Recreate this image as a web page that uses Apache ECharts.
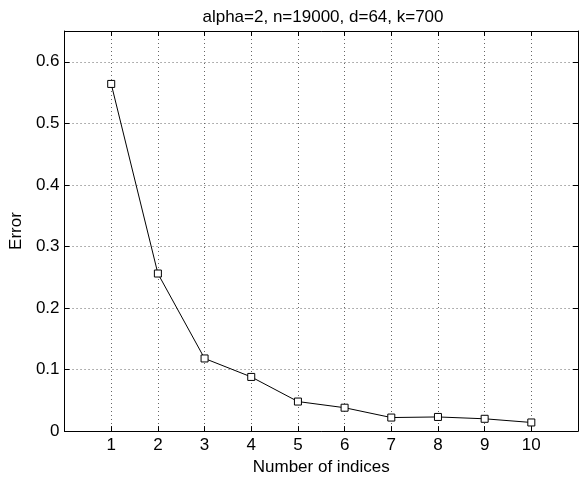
<!DOCTYPE html>
<html>
<head>
<meta charset="utf-8">
<script src="https://cdn.jsdelivr.net/npm/echarts@6/dist/echarts.min.js"></script>
<style>
html,body{margin:0;padding:0;background:#fff;}
#chart{width:581px;height:481px;}
</style>
</head>
<body>
<div id="chart"></div>
<script>
const titleText = 'alpha=2, n=19000, d=64, k=700';
const xName = 'Number of indices';
const yName = 'Error';
const indices = [1, 2, 3, 4, 5, 6, 7, 8, 9, 10];
const errors = [0.564, 0.256, 0.118, 0.088, 0.048, 0.038, 0.022, 0.023, 0.020, 0.014];

const FONT = 'Liberation Sans, Arial, Helvetica, sans-serif';
const chart = echarts.init(document.getElementById('chart'), null, {renderer: 'canvas'});

const gridLine = {show: true, lineStyle: {color: '#666', type: [1, 3], width: 1}};
const axisLine = {show: true, onZero: false, lineStyle: {color: '#000', width: 1}};
const tick = {show: true, inside: true, length: 5, lineStyle: {color: '#000', width: 1}};

const xFmt = v => (v >= 1 && v <= 10) ? String(v) : '';
const yFmt = v => {
  const t = v * 10;
  return Math.abs(t - Math.round(t)) < 1e-6 ? String(+v.toFixed(1)) : '';
};

chart.setOption({
  animation: false,
  backgroundColor: '#fff',
  title: {
    text: titleText,
    left: 318,
    textAlign: 'center',
    top: 4,
    textStyle: {fontFamily: FONT, fontSize: 17, fontWeight: 'normal', color: '#000'}
  },
  grid: {left: 57.5, right: 3, top: 31, bottom: 42.7, containLabel: false},
  xAxis: [{
    type: 'value', min: 0, max: 11, interval: 1, position: 'bottom',
    name: xName, nameLocation: 'middle', nameGap: 22,
    nameTextStyle: {fontFamily: FONT, fontSize: 17, color: '#000', verticalAlign: 'top'},
    axisLine: axisLine, axisTick: tick, splitLine: gridLine,
    axisLabel: {formatter: xFmt, margin: 6, fontFamily: FONT, fontSize: 17, color: '#000'}
  }, {
    type: 'value', min: 0, max: 11, interval: 1, position: 'top',
    axisLine: axisLine, axisTick: tick, splitLine: {show: false},
    axisLabel: {show: false}
  }],
  yAxis: [{
    type: 'value', min: 0, max: 0.65, interval: 0.1, position: 'left',
    name: yName, nameLocation: 'middle', nameGap: 30, nameRotate: 90,
    nameTextStyle: {fontFamily: FONT, fontSize: 17, color: '#000'},
    axisLine: axisLine, axisTick: tick, splitLine: gridLine,
    axisLabel: {formatter: yFmt, margin: 5, fontFamily: FONT, fontSize: 17, color: '#000'}
  }, {
    type: 'value', min: 0, max: 0.65, interval: 0.1, position: 'right',
    axisLine: axisLine, axisTick: tick, splitLine: {show: false},
    axisLabel: {show: false}
  }],
  series: [{
    type: 'line',
    xAxisIndex: 0, yAxisIndex: 0,
    data: indices.map((x, i) => [x, errors[i]]),
    symbol: 'rect', symbolSize: 7,
    showAllSymbol: true,
    lineStyle: {color: '#000', width: 1},
    itemStyle: {color: '#fff', borderColor: '#000', borderWidth: 1},
    emphasis: {disabled: true}
  }]
});
</script>
</body>
</html>
